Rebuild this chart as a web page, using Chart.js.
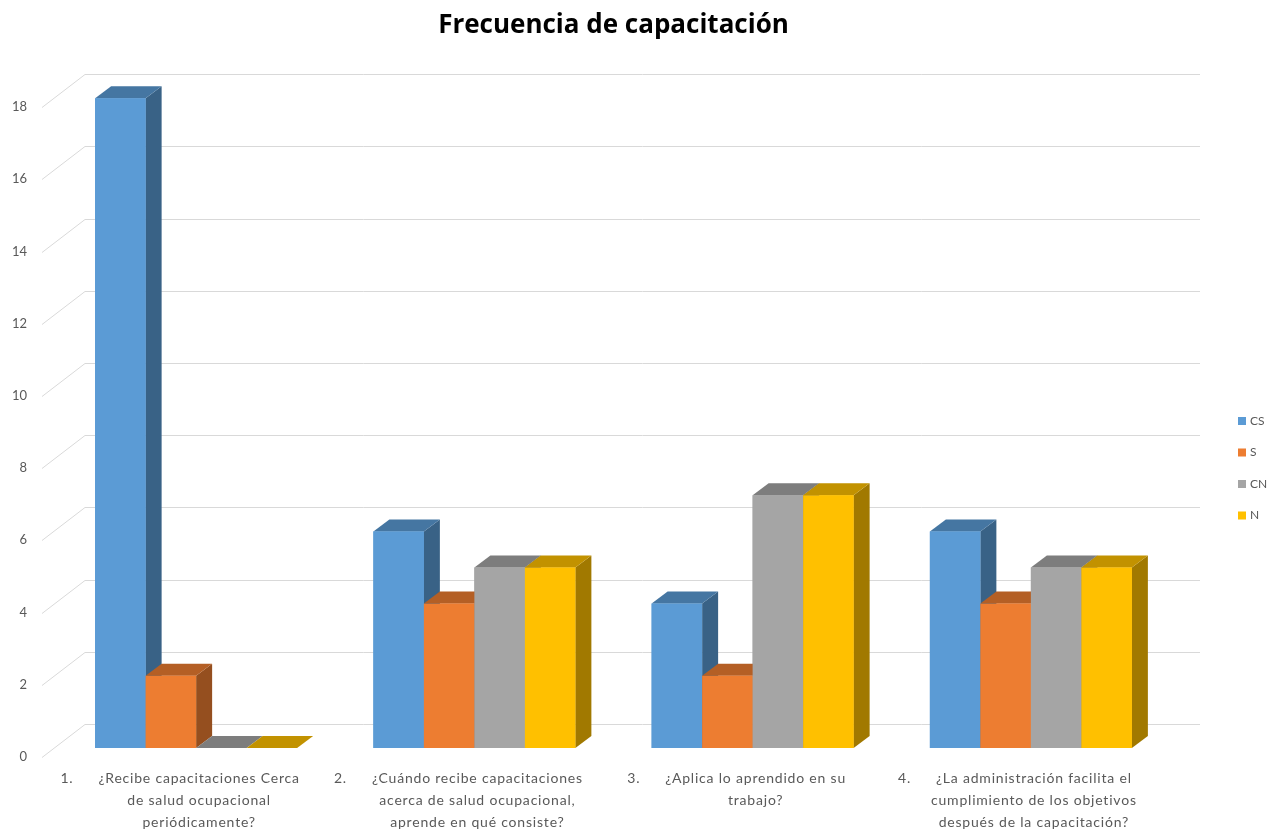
<!DOCTYPE html>
<html>
<head>
<meta charset="utf-8">
<script src="https://cdn.jsdelivr.net/npm/chart.js@4.4.1/dist/chart.umd.min.js"></script>
<style>
  html, body { margin: 0; padding: 0; background: #fff; }
  canvas { display: block; }
</style>
</head>
<body>
<canvas id="chart" width="1282" height="832"></canvas>
<script>
// datos del gráfico
const categoryNumbers = ['1.', '2.', '3.', '4.'];
const categories = [
  ['¿Recibe capacitaciones Cerca', 'de salud ocupacional', 'periódicamente?'],
  ['¿Cuándo recibe capacitaciones', 'acerca de salud ocupacional,', 'aprende en qué consiste?'],
  ['¿Aplica lo aprendido en su', 'trabajo?'],
  ['¿La administración facilita el', 'cumplimiento de los objetivos', 'después de la capacitación?'],
];
const seriesNames = ['CS', 'S', 'CN', 'N'];
const csValues = [18, 6, 4, 6];
const sValues  = [2, 4, 2, 4];
const cnValues = [0, 5, 7, 5];
const nValues  = [0, 5, 7, 5];
const yTicks = [0, 2, 4, 6, 8, 10, 12, 14, 16, 18];

const colors = ['#5B9BD5', '#ED7D31', '#A5A5A5', '#FFC000'];
const textColor = '#595959';
const gridColor = '#D9D9D9';
const fontFamily = 'Lato, "Open Sans", sans-serif';

// profundidad 3D de las barras y de la pared del fondo
const barDepth = { dx: 16, dy: -12 };
const wall = { frontX: -15, frontY: 9, backX: 28, backY: -24, extra: 30 };

function shade(hex, f) {
  const n = parseInt(hex.slice(1), 16);
  const r = Math.round(((n >> 16) & 255) * f);
  const g = Math.round(((n >> 8) & 255) * f);
  const b = Math.round((n & 255) * f);
  return `rgb(${r},${g},${b})`;
}

// pared del fondo con líneas de cuadrícula y etiquetas del eje Y
const wallPlugin = {
  id: 'wall3d',
  beforeDatasetsDraw(chart) {
    const { ctx, chartArea, scales } = chart;
    const y = scales.y;
    ctx.save();
    ctx.strokeStyle = gridColor;
    ctx.lineWidth = 1;
    ctx.font = `13px ${fontFamily}`;
    ctx.fillStyle = textColor;
    ctx.textAlign = 'right';
    ctx.textBaseline = 'middle';
    yTicks.forEach((v) => {
      const py = Math.round(y.getPixelForValue(v)) + 0.5;
      ctx.beginPath();
      ctx.moveTo(chartArea.left + wall.frontX, py + wall.frontY);
      ctx.lineTo(chartArea.left + wall.backX, py + wall.backY);
      ctx.lineTo(chartArea.right + wall.extra, py + wall.backY);
      ctx.stroke();
      ctx.fillText(String(v), 27, py + 8);
    });
    ctx.restore();
  },
};

// caras laterales y superiores, dibujadas de izquierda a derecha
const barsPlugin = {
  id: 'bars3d',
  afterDatasetsDraw(chart) {
    const ctx = chart.ctx;
    const { dx, dy } = barDepth;
    ctx.save();
    for (let j = 0; j < categories.length; j++) {
      chart.data.datasets.forEach((ds, i) => {
        const el = chart.getDatasetMeta(i).data[j];
        const { x, y, base, width } = el.getProps(['x', 'y', 'base', 'width'], true);
        const l = x - width / 2;
        const r = x + width / 2;
        ctx.fillStyle = shade(ds.backgroundColor, 0.63);
        ctx.beginPath();
        ctx.moveTo(r, y);
        ctx.lineTo(r + dx, y + dy);
        ctx.lineTo(r + dx, base + dy);
        ctx.lineTo(r, base);
        ctx.closePath();
        ctx.fill();
        ctx.fillStyle = shade(ds.backgroundColor, 0.76);
        ctx.beginPath();
        ctx.moveTo(l, y);
        ctx.lineTo(l + dx, y + dy);
        ctx.lineTo(r + dx, y + dy);
        ctx.lineTo(r, y);
        ctx.closePath();
        ctx.fill();
        ctx.fillStyle = ds.backgroundColor;
        ctx.fillRect(l, y, width, base - y);
      });
    }
    ctx.restore();
  },
  afterDraw(chart) {
    const { ctx, chartArea, scales } = chart;
    ctx.save();
    ctx.font = `14px ${fontFamily}`;
    ctx.letterSpacing = '0.8px';
    ctx.fillStyle = textColor;
    ctx.textBaseline = 'middle';
    // etiquetas de categorías
    categories.forEach((lines, j) => {
      const cx = scales.x.getPixelForValue(j) + 3;
      lines.forEach((line, k) => {
        const ly = chartArea.bottom + 30 + k * 22;
        ctx.textAlign = 'center';
        ctx.fillText(line, cx, ly);
        if (k === 0) {
          const w = ctx.measureText(line).width;
          ctx.textAlign = 'right';
          ctx.fillText(categoryNumbers[j], cx - w / 2 - 25, ly);
        }
      });
    });
    // leyenda
    ctx.letterSpacing = '0px';
    ctx.font = `12px ${fontFamily}`;
    ctx.textAlign = 'left';
    chart.data.datasets.forEach((ds, i) => {
      const ly = 421 + i * 31.5;
      ctx.fillStyle = ds.backgroundColor;
      ctx.fillRect(1238, ly - 4, 8, 8);
      ctx.fillStyle = textColor;
      ctx.fillText(ds.label, 1250, ly);
    });
    ctx.restore();
  },
};

const seriesValues = [csValues, sValues, cnValues, nValues];

new Chart(document.getElementById('chart'), {
  type: 'bar',
  data: {
    labels: categories,
    datasets: seriesNames.map((name, i) => ({
      label: name,
      data: seriesValues[i],
      backgroundColor: colors[i],
      borderWidth: 0,
      categoryPercentage: 0.726,
      barPercentage: 1.0,
    })),
  },
  options: {
    responsive: false,
    animation: false,
    layout: { padding: { left: 0, right: 112, top: 0, bottom: 0 } },
    plugins: {
      legend: { display: false },
      tooltip: { enabled: false },
      title: {
        display: true,
        text: 'Frecuencia de capacitación',
        fullSize: false,
        color: '#000',
        font: { family: '"Open Sans", Lato, sans-serif', size: 26, weight: 'bold', lineHeight: 1.2 },
        padding: { top: 10, bottom: 57 },
      },
    },
    scales: {
      x: {
        grid: { display: false },
        border: { display: false },
        ticks: { display: false },
        afterFit: (s) => { s.height = 84; },
      },
      y: {
        min: 0,
        max: 18,
        grid: { display: false },
        border: { display: false },
        ticks: { display: false, stepSize: 2 },
        afterFit: (s) => { s.width = 57; },
      },
    },
  },
  plugins: [wallPlugin, barsPlugin],
});
</script>
</body>
</html>
